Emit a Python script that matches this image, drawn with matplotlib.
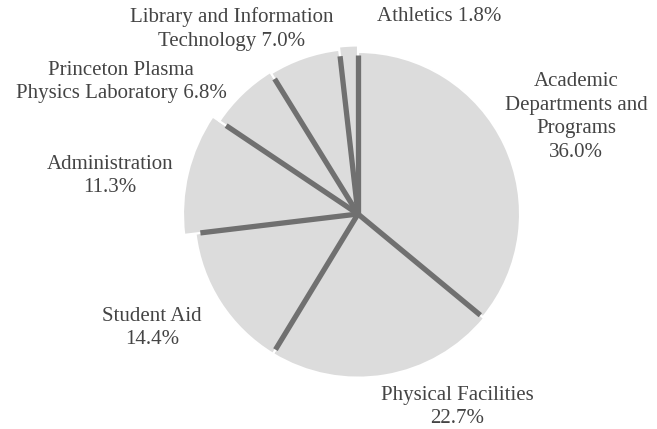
import matplotlib
matplotlib.use('Agg')
import matplotlib.pyplot as plt
import numpy as np

categories = ['Academic Departments and Programs', 'Physical Facilities', 'Student Aid',
              'Administration', 'Princeton Plasma Physics Laboratory',
              'Library and Information Technology', 'Athletics']
shares = [36.0, 22.7, 14.4, 11.3, 6.8, 7.0, 1.8]

# label text and pixel positions (centre of text block)
labels = ['Academic\nDepartments and\nPrograms\n36.0%', 'Physical Facilities\n22.7%',
          'Student Aid\n14.4%', 'Administration\n11.3%',
          'Princeton Plasma\nPhysics Laboratory 6.8%',
          'Library and Information\nTechnology 7.0%', 'Athletics 1.8%']
label_px = [(576, 117), (457, 407), (152, 328), (110, 176), (121, 82), (232, 29), (439, 17)]

# wedges are drawn at slightly different radii in the reference
radii = [1.0, 1.01, 1.01, 1.08, 1.03, 1.02, 1.04]

R = 162.0
cx, cy = 358.0, 214.0


def px(x, y):
    return (x - cx) / R, (cy - y) / R


fig = plt.figure(figsize=(6.57, 4.29), dpi=100)
ax = fig.add_axes([0, 0, 1, 1])

wedges, _ = ax.pie(shares, startangle=90, counterclock=False, colors=['#dcdcdc'] * len(shares),
                   wedgeprops=dict(edgecolor='white', linewidth=1.5))
for w, r in zip(wedges, radii):
    w.set_radius(r)

# dark separator along the start edge of each wedge
starts = np.concatenate([[0], np.cumsum(shares)[:-1]]) / 100.0 * 360.0
for a in starts:
    t = np.deg2rad(90 - a)
    ax.plot([0, 0.98 * np.cos(t)], [0, 0.98 * np.sin(t)], color='#707070',
            linewidth=3.8, solid_capstyle='butt')

for lab, (x, y) in zip(labels, label_px):
    ax.text(*px(x, y), lab, ha='center', va='center', fontsize=15,
            family='Liberation Serif', color='#444444', linespacing=1.34)

ax.set_aspect('auto')
ax.set_xlim(-cx / R, (657 - cx) / R)
ax.set_ylim((cy - 429) / R, cy / R)
ax.axis('off')

fig.savefig('out.png', dpi=100)
